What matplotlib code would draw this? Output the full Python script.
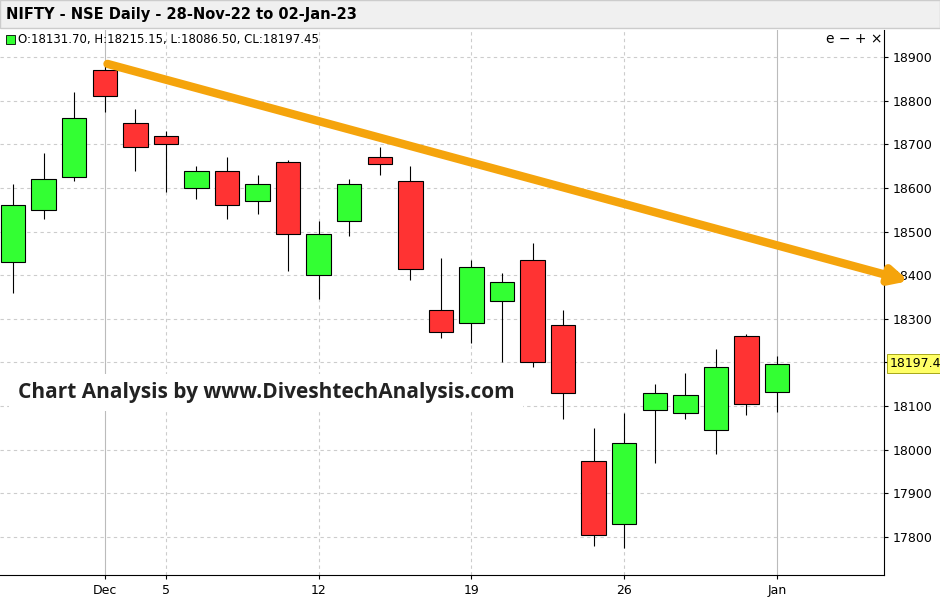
import matplotlib
matplotlib.use("Agg")
import matplotlib.pyplot as plt
from matplotlib.patches import Rectangle

dates = ["28-Nov","29-Nov","30-Nov","1-Dec","2-Dec","5-Dec","6-Dec","7-Dec","8-Dec","9-Dec",
         "12-Dec","13-Dec","14-Dec","15-Dec","16-Dec","19-Dec","20-Dec","21-Dec","22-Dec","23-Dec",
         "26-Dec","27-Dec","28-Dec","29-Dec","30-Dec","2-Jan"]
opens  = [18430,18550,18625,18870,18750,18720,18600,18640,18570,18660,18400,18525,18670,18615,18320,18290,18340,18435,18285,17975,17830,18090,18085,18045,18260,18131.70]
highs  = [18610,18680,18820,18890,18780,18730,18650,18670,18630,18665,18525,18620,18695,18650,18440,18435,18405,18475,18320,18050,18085,18150,18175,18230,18265,18215.15]
lows   = [18360,18530,18615,18775,18640,18590,18575,18530,18540,18410,18345,18490,18630,18390,18255,18245,18200,18190,18070,17780,17775,17970,18070,17990,18080,18086.50]
closes = [18560,18620,18760,18810,18695,18700,18640,18560,18610,18495,18495,18610,18655,18415,18270,18420,18385,18200,18130,17805,18015,18130,18125,18190,18105,18197.45]
xtick_pos = [3,5,10,15,20,25]
xtick_labels = ["Dec","5","12","19","26","Jan"]
yticks = list(range(17800,18901,100))

W, H = 940, 603
fig = plt.figure(figsize=(W/100, H/100), dpi=100)
ax = fig.add_axes([0, 28/H, 884/W, (575-30)/H])
ax.set_xlim(-0.43, 28.5)
ax.set_ylim(17713, 18962)

for x in [5,10,15,20]:
    ax.axvline(x, color="#cccccc", ls=(0,(3,3)), lw=0.8, zorder=0)
for x in [3,25]:
    ax.axvline(x, color="#bbbbbb", lw=0.8, zorder=0)
for y in yticks:
    ax.axhline(y, color="#cccccc", ls=(0,(3,3)), lw=0.8, zorder=0)

for i,(o,h,l,c) in enumerate(zip(opens,highs,lows,closes)):
    col = "#33ff33" if c >= o else "#ff3333"
    ax.vlines(i, l, h, color="black", lw=0.8, zorder=2)
    ax.add_patch(Rectangle((i-0.4, min(o,c)), 0.8, max(abs(c-o),3), facecolor=col,
                           edgecolor="black", lw=0.8, zorder=3))

ax.yaxis.tick_right()
ax.set_yticks(yticks)
ax.set_yticklabels(["" if v == 18200 else str(v) for v in yticks])
ax.set_xticks(xtick_pos)
ax.set_xticklabels(xtick_labels)
ax.tick_params(labelsize=9, length=3)
for s in ["top","left"]:
    ax.spines[s].set_visible(False)

ax.annotate("", xy=(29.4, 18385), xytext=(3, 18886),
            arrowprops=dict(arrowstyle="-|>,head_width=0.5,head_length=1.0", color="#f5a40c", lw=6),
            annotation_clip=False, zorder=5)

ax.text(0.02, 0.325, "Chart Analysis by www.DiveshtechAnalysis.com", transform=ax.transAxes,
        fontsize=15, fontweight="bold", color="#222222", family="Open Sans",
        bbox=dict(facecolor="white", edgecolor="none", pad=6), zorder=6)

ax.text(1.006, 18197.45, "18197.4", transform=ax.get_yaxis_transform(), fontsize=9, va="center",
        bbox=dict(facecolor="#ffff66", edgecolor="#999900", pad=2, lw=0.6), zorder=7, clip_on=False)

fig.patches.append(Rectangle((0, 1-28/H), 1, 28/H, transform=fig.transFigure, facecolor="#f0f0f0", edgecolor="#cccccc"))
fig.text(6/W, 1-15/H, "NIFTY - NSE Daily - 28-Nov-22 to 02-Jan-23", fontsize=10.5, fontweight="bold", va="center")
fig.patches.append(Rectangle((6/W, 1-44/H), 9/W, 9/H, transform=fig.transFigure, facecolor="#33ff33", edgecolor="black", lw=0.6))
fig.text(18/W, 1-40/H, "O:18131.70, H:18215.15, L:18086.50, CL:18197.45", fontsize=8.5, va="center")
fig.text(826/W, 1-39/H, "e \u2212 + \u00d7", fontsize=10, va="center")

fig.savefig("out.png", dpi=100)
